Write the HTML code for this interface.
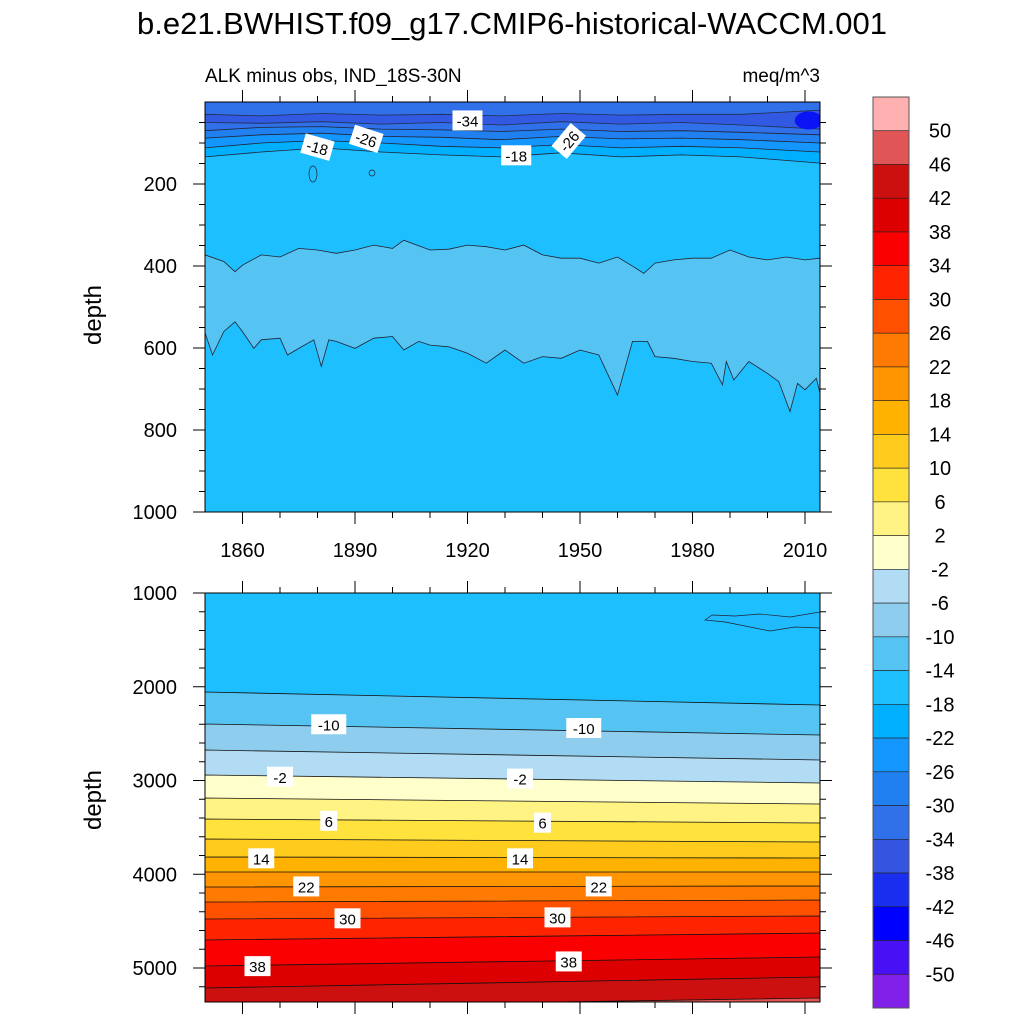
<!DOCTYPE html>
<html><head><meta charset="utf-8"><style>
html,body{margin:0;padding:0;background:#fff}
svg{display:block;font-family:"Liberation Sans",sans-serif}
</style></head><body>
<svg id="chart" width="1024" height="1024" viewBox="0 0 1024 1024">
<text x="512" y="34" text-anchor="middle" font-size="31">b.e21.BWHIST.f09_g17.CMIP6-historical-WACCM.001</text>
<text x="205" y="82" font-size="19">ALK minus obs, IND_18S-30N</text>
<text x="820" y="82" font-size="19" text-anchor="end">meq/m^3</text>
<text transform="translate(101,315) rotate(-90)" text-anchor="middle" font-size="24">depth</text>
<text transform="translate(101,800) rotate(-90)" text-anchor="middle" font-size="24">depth</text>
<g id="topPanel"></g>
<g id="botPanel"></g>
<g id="cbar"></g>
</svg>
<script>
// ---- data ----
const levels = [-50,-46,-42,-38,-34,-30,-26,-22,-18,-14,-10,-6,-2,2,6,10,14,18,22,26,30,34,38,42,46,50];
const colors = ["#8020e8","#4810f5","#0000ff","#1a2ef0","#3355e0","#3070e8","#2080f0","#1496ff","#00b0ff","#1ebfff","#55c4f2","#8ecdee","#b2dcf4","#ffffcc","#fff384","#ffe23c","#ffcc1e","#ffb300","#ff9500","#ff7a00","#ff5000","#ff2400","#fa0000","#dc0000","#cc1010","#e05555","#ffb0b0"];
// top panel: -14 contour (upper and lower edges of the -14..-10 band)
const upYears = [1850,1855,1858,1860,1865,1870,1875,1880,1885,1890,1895,1900,1903,1910,1915,1920,1925,1930,1935,1940,1945,1950,1955,1960,1965,1967,1970,1975,1980,1985,1990,1995,2000,2005,2010,2014];
const upDepth = [373,389,414,398,373,378,357,361,369,361,349,357,337,361,359,349,353,361,349,373,381,381,393,378,406,418,393,385,381,381,361,378,385,378,385,381];
const loYears = [1850,1852,1855,1858,1860,1863,1865,1870,1872,1875,1879,1881,1883,1885,1890,1895,1900,1903,1907,1910,1915,1920,1925,1930,1935,1940,1945,1950,1955,1960,1964,1968,1970,1975,1980,1985,1988,1989,1991,1995,2000,2003,2006,2008,2010,2013,2014];
const loDepth = [563,617,560,536,560,601,580,576,617,601,580,645,580,584,601,576,572,605,584,593,597,613,637,605,637,621,625,605,617,715,584,584,621,625,633,637,690,633,678,633,662,682,755,686,702,674,710];
// near-surface contours (depth in m) sampled along years
const surfYears = [1850,1865,1881,1897,1913,1929,1945,1961,1977,1993,2014];
const d18 = [134,122,112,122,129,134,124,134,129,134,149];
const d22 = [112,100,94,100,108,112,104,112,108,112,122];
const d26 = [88,80,76,84,86,92,84,90,88,92,100];
const d30 = [70,62,60,66,68,72,66,72,70,74,80];
const d34top = [30,34,28,32,30,34,28,32,30,30,20];
const d34bot = [50,52,48,54,50,56,48,54,50,56,66];
// bottom panel: contour depths at 1850 and 2014 for levels -14 .. 46
const botLevels = [-14,-10,-6,-2,2,6,10,14,18,22,26,30,34,38,42,46];
const botLeft  = [2056,2397,2675,2941,3187,3411,3624,3816,3976,4136,4296,4477,4701,4979,5213,5420];
const botRight = [2195,2515,2781,3027,3251,3453,3656,3827,3976,4125,4275,4445,4627,4883,5096,5320];
const topLabels = [["-34",1920,45,0],["-26",1893,90,18],["-18",1880,110,16],["-18",1933,130,0],["-26",1947,95,-50]];
const botLabels = [["-10",1883,2400],["-10",1951,2440],["-2",1870,2960],["-2",1934,2980],["6",1883,3430],["6",1940,3450],["14",1865,3830],["14",1934,3830],["22",1877,4130],["22",1955,4130],["30",1888,4470],["30",1944,4460],["38",1864,4980],["38",1947,4930]];

// ---- axes ----
const NS="http://www.w3.org/2000/svg";
function mk(tag,attrs,parent){const e=document.createElementNS(NS,tag);for(const k in attrs)e.setAttribute(k,attrs[k]);parent.appendChild(e);return e;}
const X0=205,X1=820,Y0T=102,Y1T=512,Y0B=593,Y1B=1002;
const xs=yr=>X0+(yr-1850)*(X1-X0)/164;
const yt=d=>Y0T+d*0.41;
const yb=d=>Y0B+(d-1000)*0.09375;
const colorOf=lv=>colors[levels.indexOf(lv)+1];
const topG=document.getElementById('topPanel'), botG=document.getElementById('botPanel'), cb=document.getElementById('cbar');

// top panel
let cp=mk('clipPath',{id:'ct'},topG); mk('rect',{x:X0,y:Y0T,width:X1-X0,height:Y1T-Y0T},cp);
const tg=mk('g',{'clip-path':'url(#ct)'},topG);
let r=mk('rect',{x:X0,y:Y0T,width:X1-X0,height:Y1T-Y0T,fill:colorOf(-18)},tg);


function linePts(ys,ds){return ys.map((y,i)=>xs(y).toFixed(1)+','+yt(ds[i]).toFixed(1));}
let pm=mk('polygon',{points:linePts(upYears,upDepth).concat(linePts(loYears,loDepth).reverse()).join(' '),fill:colorOf(-14),stroke:'#223',"stroke-width":0.8},tg);


function topFill(ds,col,name){
  const pts=[X0+','+(Y0T-2)].concat(linePts(surfYears,ds)).concat([X1+','+(Y0T-2)]);
  const p=mk('polygon',{points:pts.join(' '),fill:col,stroke:'#223',"stroke-width":0.8},tg);
  
  
}
topFill(d18,colorOf(-22),'band-minus22');
topFill(d22,colorOf(-26),'band-minus26');
topFill(d26,colorOf(-30),'band-minus30');
topFill(d30,colorOf(-34),'band-minus34');
let p34=mk('polygon',{points:linePts(surfYears,d34top).concat(linePts(surfYears,d34bot).reverse()).join(' '),fill:colorOf(-38),stroke:'#223',"stroke-width":0.8,opacity:0.85},tg);


let dp=mk('ellipse',{cx:xs(2011),cy:yt(45),rx:14,ry:9,fill:'#0a14f5'},tg);


mk('ellipse',{cx:313,cy:174,rx:4,ry:8,fill:'none',stroke:'#223','stroke-width':0.7},tg);
mk('ellipse',{cx:372,cy:173,rx:3,ry:3,fill:'none',stroke:'#223','stroke-width':0.7},tg);
topLabels.forEach(l=>{
  const g=mk('g',{transform:`translate(${xs(l[1])},${yt(l[2])}) rotate(${l[3]})`},topG);
  
  
  mk('rect',{x:-15,y:-10,width:30,height:20,fill:'#fff'},g);
  mk('text',{x:0,y:6,'text-anchor':'middle','font-size':15},g).textContent=l[0];
});
mk('rect',{x:X0,y:Y0T,width:X1-X0,height:Y1T-Y0T,fill:'none',stroke:'#000','stroke-width':1},topG);

// bottom panel
cp=mk('clipPath',{id:'cbt'},botG); mk('rect',{x:X0,y:Y0B,width:X1-X0,height:Y1B-Y0B},cp);
const bg=mk('g',{'clip-path':'url(#cbt)'},botG);
r=mk('rect',{x:X0,y:Y0B,width:X1-X0,height:Y1B-Y0B,fill:colorOf(-18)},bg);


botLevels.forEach((lv,i)=>{
  const yl=yb(botLeft[i]), yr=yb(botRight[i]);
  const p=mk('polygon',{points:`${X0},${yl} ${X1},${yr} ${X1},${Y1B+30} ${X0},${Y1B+30}`,fill:colorOf(lv),stroke:'#111','stroke-width':0.8},bg);
  
  
});
let pt=mk('path',{d:'M705,620 L712,615 L735,616 L760,614 L790,617 L820,612 L820,628 L795,627 L770,631 L745,626 L725,622 Z',fill:'#20baff',stroke:'#223','stroke-width':0.7},bg);


botLabels.forEach(l=>{
  const g=mk('g',{transform:`translate(${xs(l[1])},${yb(l[2])})`},botG);
  
  
  const w=l[0].length*9+8;
  mk('rect',{x:-w/2,y:-10,width:w,height:20,fill:'#fff'},g);
  mk('text',{x:0,y:6,'text-anchor':'middle','font-size':15},g).textContent=l[0];
});
mk('rect',{x:X0,y:Y0B,width:X1-X0,height:Y1B-Y0B,fill:'none',stroke:'#000','stroke-width':1},botG);

// ticks
function tick(g,x1,y1,x2,y2){mk('line',{x1,y1,x2,y2,stroke:'#000','stroke-width':1},g);}
const tkT=mk('g',{},topG);  
const tkB=mk('g',{},botG);  
for(let yr=1860;yr<=2010;yr+=10){
  const L=(yr-1860)%30===0?12:6, x=xs(yr);
  tick(tkT,x,Y0T,x,Y0T-L); tick(tkT,x,Y1T,x,Y1T+L);
  tick(tkB,x,Y0B,x,Y0B-L); tick(tkB,x,Y1B,x,Y1B+L);
  if(L===12){const t=mk('text',{x:x,y:Y1T+45,'text-anchor':'middle','font-size':20},tkT);t.textContent=yr;
    
    }
}
for(let d=50;d<=1000;d+=50){
  const L=d%200===0?12:6,y=yt(d);
  tick(tkT,X0,y,X0-L,y); tick(tkT,X1,y,X1+L,y);
  if(d%200===0){const t=mk('text',{x:177,y:y+7,'text-anchor':'end','font-size':20},tkT);t.textContent=d;
    
    }
}
for(let d=1000;d<=5360;d+=200){
  const L=d%1000===0?12:6,y=yb(d);
  tick(tkB,X0,y,X0-L,y); tick(tkB,X1,y,X1+L,y);
  if(d%1000===0){const t=mk('text',{x:177,y:y+7,'text-anchor':'end','font-size':20},tkB);t.textContent=d;
    
    }
}

// colorbar
const CB0=97,CB1=1008,CX=873,CW=36,h=(CB1-CB0)/colors.length;
colors.slice().reverse().forEach((c,i)=>{
  const b=mk('rect',{x:CX,y:CB0+i*h,width:CW,height:h,fill:c,stroke:'#222','stroke-width':0.6},cb);
  
  
});
levels.slice().reverse().forEach((lv,i)=>{
  const t=mk('text',{x:940,y:CB0+(i+1)*h+7,'text-anchor':'middle','font-size':20},cb);
  t.textContent=lv;
  
  
});
mk('rect',{x:CX,y:CB0,width:CW,height:CB1-CB0,fill:'none',stroke:'#555','stroke-width':1},cb);
</script>
</body></html>
